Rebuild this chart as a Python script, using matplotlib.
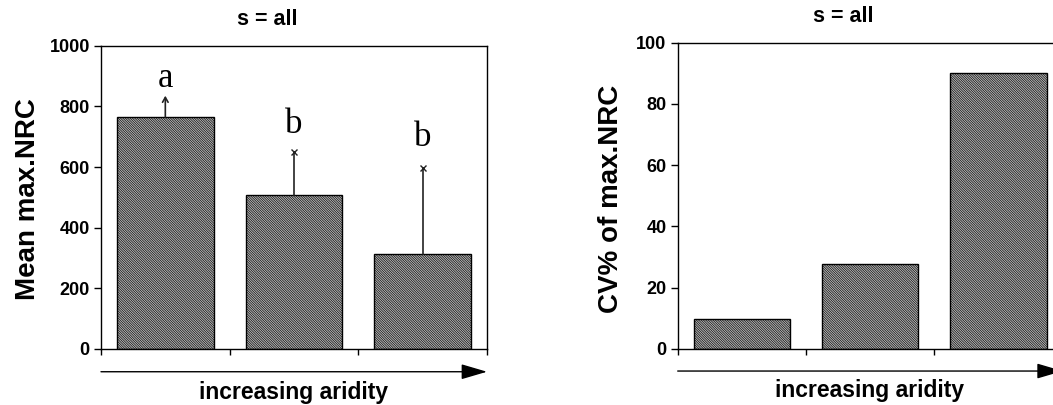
import numpy as np
import matplotlib.pyplot as plt

plt.rcParams['font.family'] = 'Liberation Sans'
plt.rcParams['font.weight'] = 'bold'
plt.rcParams['hatch.color'] = '#505050'
plt.rcParams['hatch.linewidth'] = 0.45

# data
groups = ['low', 'mid', 'high']          # increasing aridity
mean_nrc = [765, 509, 313]
err_top = [835, 650, 596]                # top of the error bars
letters = ['a', 'b', 'b']
letter_y = [863, 711, 670]
cv_nrc = [9.7, 27.7, 90.0]

fig = plt.figure(figsize=(10.53, 4.05), dpi=100)
ax1 = fig.add_axes([0.0959, 0.1383, 0.3666, 0.7489])
ax2 = fig.add_axes([0.6436, 0.1383, 0.3656, 0.7563])

x = np.arange(len(groups))
HATCH = '\\' * 14


def style_axes(ax, ymax, yticks, ylabel, arrow_y, label_y):
    ax.set_xlim(-0.5, len(groups) - 0.5)
    ax.set_ylim(0, ymax)
    ax.set_xticks(np.arange(-0.5, len(groups), 1.0))
    ax.set_xticklabels([])
    ax.set_yticks(yticks)
    ax.tick_params(axis='x', direction='out', length=4, width=1)
    ax.tick_params(axis='y', direction='out', length=5, width=1, labelsize=13, pad=3)
    for s in ax.spines.values():
        s.set_linewidth(1)
    ax.text(0.43, 1.085, 's = all', transform=ax.transAxes, ha='center', va='center',
            fontsize=15.5, fontweight='bold')
    ax.text(-0.19, 0.495, ylabel, transform=ax.transAxes, rotation=90, ha='center',
            va='center', fontsize=20, fontweight='bold')
    ax.annotate('', xy=(1.0, arrow_y), xytext=(0.0, arrow_y), xycoords='axes fraction',
                textcoords='axes fraction', annotation_clip=False,
                arrowprops=dict(arrowstyle='-|>,head_length=1.6,head_width=0.47',
                                mutation_scale=10, color='black', lw=1, shrinkA=0, shrinkB=0))
    ax.text(0.498, label_y, 'increasing aridity', transform=ax.transAxes, ha='center',
            va='center', fontsize=16.5, fontweight='bold')


# left: mean max.NRC
ax1.bar(x, mean_nrc, width=0.75, facecolor='#b4b4b4', edgecolor='black', lw=1,
        hatch=HATCH, zorder=2)
for i in range(len(groups)):
    if i == 0:
        ax1.annotate('', xy=(x[i], err_top[i]), xytext=(x[i], mean_nrc[i]),
                     arrowprops=dict(arrowstyle='->,head_length=0.35,head_width=0.2',
                                     mutation_scale=10, color='#222222', lw=1.2,
                                     shrinkA=0, shrinkB=0), zorder=3)
    else:
        ax1.plot([x[i], x[i]], [mean_nrc[i], err_top[i]], color='#222222', lw=1.2, zorder=3)
        ax1.plot(x[i], err_top[i], marker='x', ms=4.5, mew=1, color='#222222', zorder=3)
    ax1.text(x[i], letter_y[i], letters[i], ha='center', va='baseline', fontsize=25,
             family='Liberation Serif', fontweight='normal')
style_axes(ax1, 1000, [0, 200, 400, 600, 800, 1000], 'Mean max.NRC', -0.075, -0.144)

# right: CV% of max.NRC
ax2.bar(x, cv_nrc, width=0.75, facecolor='#b4b4b4', edgecolor='black', lw=1,
        hatch=HATCH, zorder=2)
style_axes(ax2, 100, [0, 20, 40, 60, 80, 100], 'CV% of max.NRC', -0.072, -0.134)
ax2.spines['right'].set_visible(False)
ax2.texts[1].set_position((-0.172, 0.49))

fig.savefig('out.png', dpi=100)
